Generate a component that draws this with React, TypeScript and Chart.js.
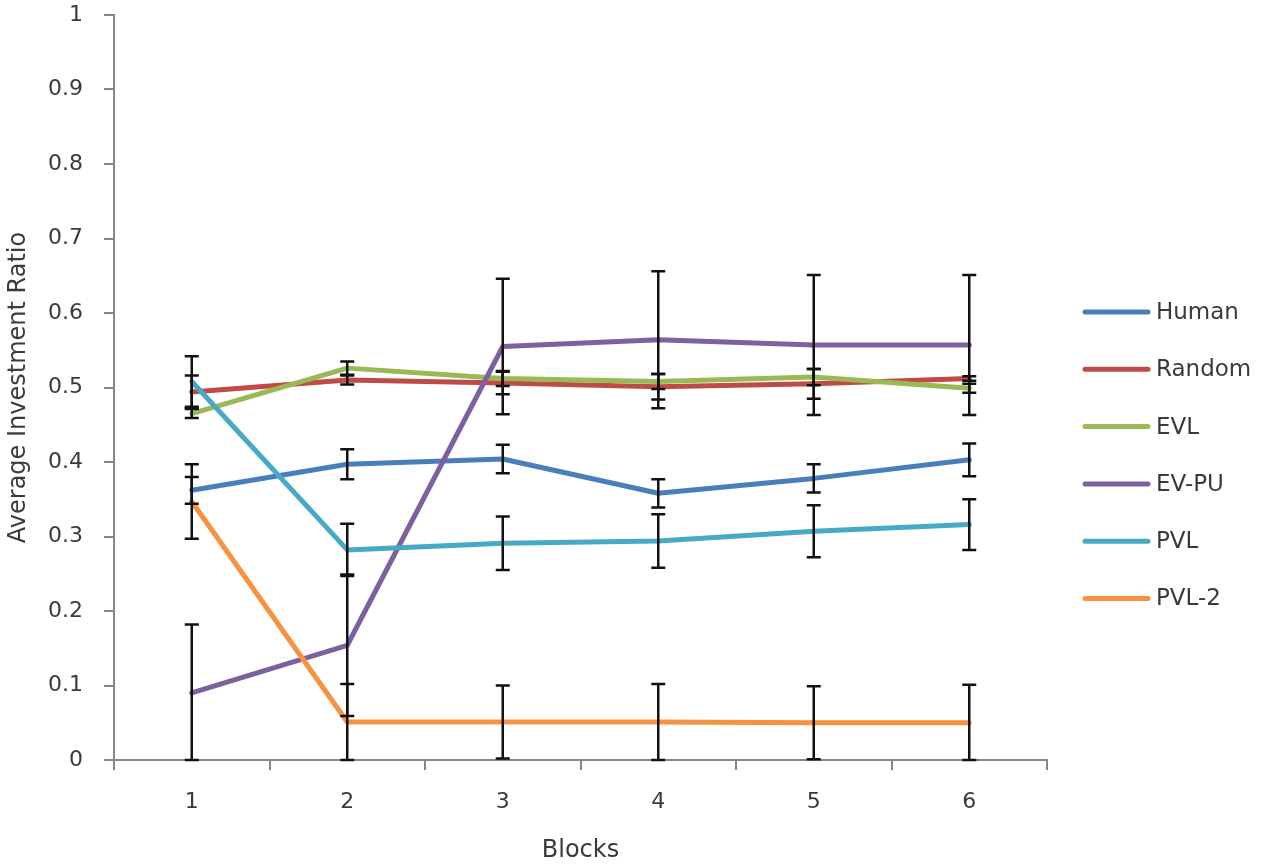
import { useEffect, useRef } from 'react';
import Chart from 'chart.js/auto';

const blocks = ['1', '2', '3', '4', '5', '6'];
const yTickLabels = ['0', '0.1', '0.2', '0.3', '0.4', '0.5', '0.6', '0.7', '0.8', '0.9', '1'];

const seriesNames = ['Human', 'Random', 'EVL', 'EV-PU', 'PVL', 'PVL-2'];
const seriesColors = ['#4A7EBB', '#BE4B48', '#98B954', '#7D60A0', '#46AAC5', '#F69240'];

const human = [0.362, 0.397, 0.404, 0.358, 0.378, 0.403];
const random = [0.494, 0.51, 0.506, 0.501, 0.505, 0.512];
const evl = [0.465, 0.526, 0.512, 0.508, 0.514, 0.499];
const evpu = [0.09, 0.154, 0.555, 0.564, 0.557, 0.557];
const pvl = [0.508, 0.282, 0.291, 0.294, 0.307, 0.316];
const pvl2 = [0.347, 0.051, 0.051, 0.051, 0.05, 0.05];

// error bar half-heights (same order as the series)
const humanErr = [0.018, 0.02, 0.019, 0.019, 0.019, 0.022];
const randomErr = [0.022, 0.006, 0.015, 0.017, 0.02, 0.003];
const evlErr = [0.006, 0.009, 0.01, 0.01, 0.011, 0.006];
const evpuErr = [0.092, 0.095, 0.091, 0.092, 0.094, 0.094];
const pvlErr = [0.034, 0.035, 0.036, 0.036, 0.035, 0.034];
const pvl2Err = [0.05, 0.051, 0.049, 0.051, 0.049, 0.051];

const seriesValues = [human, random, evl, evpu, pvl, pvl2];
const seriesErrors = [humanErr, randomErr, evlErr, evpuErr, pvlErr, pvl2Err];

const FONT = "'DejaVu Sans', sans-serif";
const AXIS_GRAY = '#868686';
const TEXT = '#3a3a3a';

const errorBars = {
  id: 'errorBars',
  afterDatasetsDraw(chart: any) {
    const { ctx, scales } = chart;
    const y = scales.y;
    ctx.save();
    ctx.strokeStyle = '#111111';
    ctx.lineWidth = 2.5;
    chart.data.datasets.forEach((ds: any, i: number) => {
      const meta = chart.getDatasetMeta(i);
      const errs = seriesErrors[i];
      meta.data.forEach((pt: any, j: number) => {
        const v = ds.data[j];
        const top = y.getPixelForValue(v + errs[j]);
        const bot = y.getPixelForValue(Math.max(0, v - errs[j]));
        ctx.beginPath();
        ctx.moveTo(pt.x, top);
        ctx.lineTo(pt.x, bot);
        ctx.moveTo(pt.x - 7, top);
        ctx.lineTo(pt.x + 7, top);
        ctx.moveTo(pt.x - 7, bot);
        ctx.lineTo(pt.x + 7, bot);
        ctx.stroke();
      });
    });
    ctx.restore();
  },
};

const sideLegend = {
  id: 'sideLegend',
  afterDraw(chart: any) {
    const { ctx } = chart;
    ctx.save();
    ctx.font = `23px ${FONT}`;
    ctx.textBaseline = 'middle';
    ctx.textAlign = 'left';
    chart.data.datasets.forEach((ds: any, i: number) => {
      const yy = 312 + i * 57.3;
      ctx.strokeStyle = ds.borderColor;
      ctx.lineWidth = 5;
      ctx.lineCap = 'round';
      ctx.beginPath();
      ctx.moveTo(1085, yy);
      ctx.lineTo(1148, yy);
      ctx.stroke();
      ctx.fillStyle = TEXT;
      ctx.fillText(ds.label, 1156, yy + 1);
    });
    ctx.restore();
  },
};

export default function App() {
  const canvasRef = useRef<HTMLCanvasElement>(null);
  const chartRef = useRef<Chart | null>(null);

  useEffect(() => {
    document.body.style.margin = '0';
    if (!canvasRef.current) return;
    if (chartRef.current) chartRef.current.destroy();

    const datasets = seriesNames.map((name, i) => ({
      label: name,
      data: seriesValues[i],
      borderColor: seriesColors[i],
      backgroundColor: seriesColors[i],
      borderWidth: 5,
      pointRadius: 0,
      tension: 0,
      borderJoinStyle: 'round' as const,
      borderCapStyle: 'round' as const,
      order: -i,
    }));

    chartRef.current = new Chart(canvasRef.current, {
      type: 'line',
      data: { labels: blocks, datasets },
      options: {
        animation: false,
        responsive: true,
        maintainAspectRatio: false,
        layout: { padding: { top: 15, right: 220, left: 0, bottom: 0 } },
        plugins: {
          legend: { display: false },
          tooltip: { enabled: false },
        },
        scales: {
          x: {
            type: 'category',
            offset: true,
            afterFit: (scale: any) => {
              scale.height = 108;
            },
            grid: {
              display: true,
              offset: true,
              drawOnChartArea: false,
              drawTicks: true,
              tickLength: 10,
              color: AXIS_GRAY,
              lineWidth: 2,
            },
            border: { display: true, color: AXIS_GRAY, width: 2 },
            ticks: {
              color: TEXT,
              font: { family: FONT, size: 22 },
              padding: 19,
              maxRotation: 0,
            },
            title: {
              display: true,
              text: 'Blocks',
              color: TEXT,
              font: { family: FONT, size: 24 },
              padding: { top: 0, bottom: 3 },
            },
          },
          y: {
            min: 0,
            max: 1,
            afterFit: (scale: any) => {
              scale.width = 114;
              scale.paddingTop = 0;
              scale.paddingBottom = 0;
            },
            grid: {
              display: true,
              drawOnChartArea: false,
              drawTicks: true,
              tickLength: 10,
              color: AXIS_GRAY,
              lineWidth: 2,
            },
            border: { display: true, color: AXIS_GRAY, width: 2 },
            ticks: {
              stepSize: 0.1,
              color: TEXT,
              font: { family: FONT, size: 22 },
              padding: 21,
              callback: (_v: any, index: number) => yTickLabels[index],
            },
            title: {
              display: true,
              text: 'Average Investment Ratio',
              color: TEXT,
              font: { family: FONT, size: 24 },
              padding: { top: 4, bottom: 0 },
            },
          },
        },
      },
      plugins: [errorBars, sideLegend],
    });

    return () => {
      if (chartRef.current) {
        chartRef.current.destroy();
        chartRef.current = null;
      }
    };
  }, []);

  return (
    <div style={{ width: 1267, height: 868, position: 'relative', background: '#ffffff' }}>
      <canvas ref={canvasRef} />
    </div>
  );
}
